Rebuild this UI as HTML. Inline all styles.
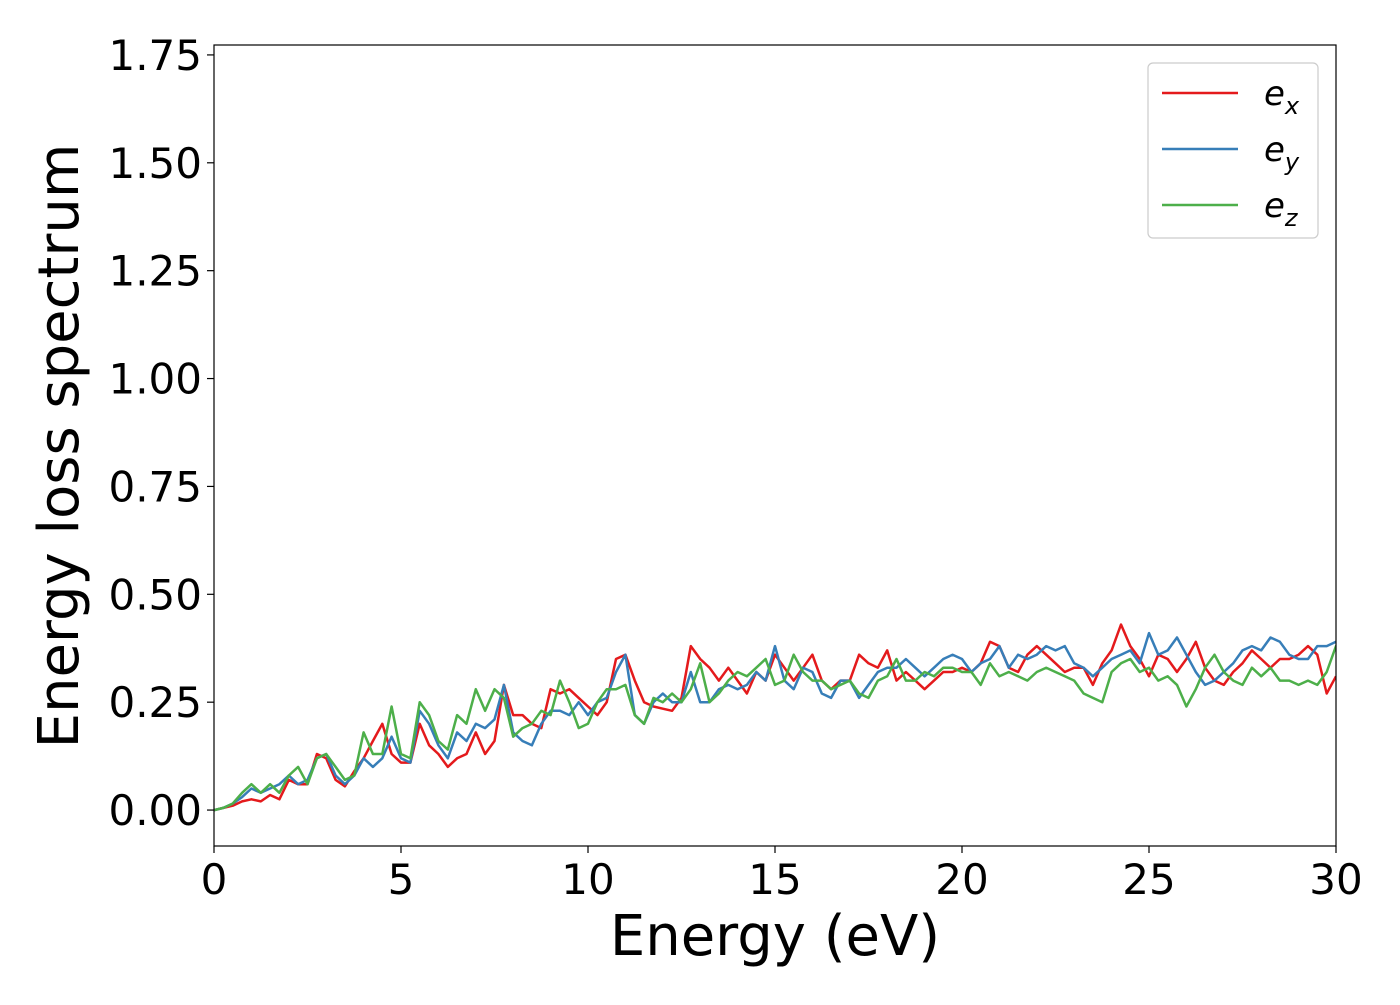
<!DOCTYPE html>
<html><head><meta charset="utf-8"><style>
body{margin:0;background:#fff;}
svg text{font-family:"DejaVu Sans","Liberation Sans",sans-serif;}
</style></head><body>
<svg id="chart" width="1400" height="1000" xmlns="http://www.w3.org/2000/svg"></svg>
<script>
const xTicks=[0,5,10,15,20,25,30];
const yTicks=[0,0.25,0.5,0.75,1.0,1.25,1.5,1.75];
const yTickLabels=["0.00","0.25","0.50","0.75","1.00","1.25","1.50","1.75"];
const energyStep=0.25;
const ex=[0,0.005,0.01,0.02,0.025,0.02,0.035,0.025,0.07,0.06,0.06,0.13,0.12,0.07,0.055,0.09,0.12,0.16,0.2,0.13,0.11,0.11,0.2,0.15,0.13,0.1,0.12,0.13,0.18,0.13,0.16,0.29,0.22,0.22,0.2,0.19,0.28,0.27,0.28,0.26,0.24,0.22,0.25,0.35,0.36,0.3,0.25,0.24,0.235,0.23,0.26,0.38,0.35,0.33,0.3,0.33,0.3,0.27,0.32,0.3,0.36,0.33,0.3,0.33,0.36,0.3,0.28,0.3,0.3,0.36,0.34,0.33,0.37,0.3,0.32,0.3,0.28,0.3,0.32,0.32,0.33,0.32,0.34,0.39,0.38,0.33,0.32,0.36,0.38,0.36,0.34,0.32,0.33,0.33,0.29,0.34,0.37,0.43,0.38,0.35,0.31,0.36,0.35,0.32,0.35,0.39,0.33,0.3,0.29,0.32,0.34,0.37,0.35,0.33,0.35,0.35,0.36,0.38,0.36,0.27,0.31];
const ey=[0,0.005,0.015,0.03,0.05,0.04,0.05,0.06,0.08,0.06,0.07,0.12,0.13,0.08,0.06,0.08,0.12,0.1,0.12,0.17,0.12,0.11,0.23,0.2,0.15,0.12,0.18,0.16,0.2,0.19,0.21,0.29,0.18,0.16,0.15,0.2,0.23,0.23,0.22,0.25,0.22,0.25,0.26,0.32,0.36,0.22,0.2,0.25,0.27,0.25,0.25,0.32,0.25,0.25,0.28,0.29,0.28,0.29,0.32,0.3,0.38,0.3,0.28,0.33,0.32,0.27,0.26,0.3,0.3,0.26,0.29,0.32,0.33,0.33,0.35,0.33,0.31,0.33,0.35,0.36,0.35,0.32,0.34,0.35,0.38,0.33,0.36,0.35,0.36,0.38,0.37,0.38,0.34,0.33,0.31,0.33,0.35,0.36,0.37,0.34,0.41,0.36,0.37,0.4,0.36,0.32,0.29,0.3,0.32,0.34,0.37,0.38,0.37,0.4,0.39,0.36,0.35,0.35,0.38,0.38,0.39,0.4,0.36,0.32,0.33];
const ez=[0,0.005,0.015,0.04,0.06,0.04,0.06,0.04,0.08,0.1,0.06,0.12,0.13,0.1,0.07,0.08,0.18,0.13,0.13,0.24,0.13,0.12,0.25,0.22,0.16,0.14,0.22,0.2,0.28,0.23,0.28,0.26,0.17,0.19,0.2,0.23,0.22,0.3,0.25,0.19,0.2,0.25,0.28,0.28,0.29,0.22,0.2,0.26,0.25,0.27,0.25,0.28,0.34,0.25,0.27,0.3,0.32,0.31,0.33,0.35,0.29,0.3,0.36,0.32,0.3,0.3,0.28,0.29,0.3,0.27,0.26,0.3,0.31,0.35,0.3,0.3,0.32,0.31,0.33,0.33,0.32,0.32,0.29,0.34,0.31,0.32,0.31,0.3,0.32,0.33,0.32,0.31,0.3,0.27,0.26,0.25,0.32,0.34,0.35,0.32,0.33,0.3,0.31,0.29,0.24,0.28,0.33,0.36,0.32,0.3,0.29,0.33,0.31,0.33,0.3,0.3,0.29,0.3,0.29,0.32,0.38,0.33,0.29];
const seriesNames=["x","y","z"];
const seriesColors=["#e41a1c","#377eb8","#4daf4a"];

const NS="http://www.w3.org/2000/svg";
const svg=document.getElementById('chart');
const L=214,R=1336,T=45,B=846;
const xMin=0,xMax=30,yMin=-0.0833,yMax=1.773;
const sx=v=>L+(v-xMin)/(xMax-xMin)*(R-L);
const sy=v=>B-(v-yMin)/(yMax-yMin)*(B-T);
function mk(tag,attrs,parent){const e=document.createElementNS(NS,tag);for(const k in attrs)e.setAttribute(k,attrs[k]);(parent||svg).appendChild(e);return e;}

const clip=mk('clipPath',{id:'c'});mk('rect',{x:L,y:T,width:R-L,height:B-T},clip);
const series=[ex,ey,ez];
const lines=mk('g',{'clip-path':'url(#c)'});


series.forEach((s,i)=>{
  const d=s.map((v,j)=>(j?'L':'M')+sx(j*energyStep).toFixed(1)+','+sy(v).toFixed(1)).join(' ');
  const p=mk('path',{d:d,fill:'none',stroke:seriesColors[i],'stroke-width':2.5,'stroke-linejoin':'round'},lines);
  
  
});

const frame=mk('rect',{x:L,y:T,width:R-L,height:B-T,fill:'none',stroke:'#000','stroke-width':1.2});



xTicks.forEach(v=>{
  const x=sx(v);
  mk('line',{x1:x,x2:x,y1:B,y2:B+7,stroke:'#000','stroke-width':1.2});
  const t=mk('text',{x:x,y:B+48,'font-size':42,'text-anchor':'middle'});t.textContent=v;
  
  
});
yTicks.forEach((v,i)=>{
  const y=sy(v);
  mk('line',{x1:L-7,x2:L,y1:y,y2:y,stroke:'#000','stroke-width':1.2});
  const t=mk('text',{x:L-12,y:y+15,'font-size':42,'text-anchor':'end'});t.textContent=yTickLabels[i];
  
  
});
const xt=mk('text',{x:(L+R)/2,y:955,'font-size':56,'text-anchor':'middle'});xt.textContent='Energy (eV)';


const yt=mk('text',{x:0,y:0,'font-size':56,'text-anchor':'middle',transform:'translate(78,446) rotate(-90)'});yt.textContent='Energy loss spectrum';



const lg=mk('g',{});


mk('rect',{x:1148,y:63,width:170,height:175,rx:5,fill:'#fff',stroke:'#ccc','stroke-width':1.2},lg);
seriesNames.forEach((n,i)=>{
  const y=93+i*56;
  const g=mk('g',{},lg);
  
  
  mk('line',{x1:1162,x2:1238,y1:y,y2:y,stroke:seriesColors[i],'stroke-width':2.5},g);
  const t=mk('text',{x:1264,y:y+12,'font-size':34,'font-style':'italic'},g);
  t.textContent='e';
  const s=mk('tspan',{'font-size':24,dy:9},t);s.textContent=n;
});
</script>
</body></html>
